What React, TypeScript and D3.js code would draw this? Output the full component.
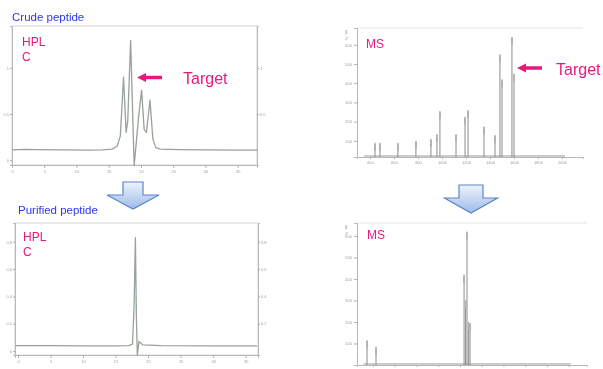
import React, { useEffect, useRef } from 'react';
import * as d3 from 'd3';

// crude peptide HPLC trace (min, mAU)
const crudeHplcTime = [0, 2, 4, 8, 12, 14, 15.5, 16.3, 16.8, 17.3, 17.7, 17.95, 18.4, 18.75, 18.95, 19.25, 19.65, 20.1, 20.5, 20.85, 21.4, 21.85, 22.3, 23, 26, 30, 35, 38];
const crudeHplcSignal = [110, 116, 112, 110, 108, 110, 118, 150, 260, 900, 300, 420, 1300, 420, -60, 170, 480, 760, 330, 300, 650, 230, 135, 118, 114, 110, 108, 108];

// purified peptide HPLC trace
const pureHplcTime = [-0.4, 5, 10, 15, 17, 17.6, 17.85, 18.05, 18.2, 18.35, 18.6, 19.2, 22, 30, 36.8];
const pureHplcSignal = [40, 40, 38, 38, 40, 50, 330, 830, 250, -30, 70, 45, 40, 38, 38];

// MS sticks (m/z, intensity x1e5)
const crudeMsMz = [442, 483, 633, 783, 908, 958, 983, 1117, 1192, 1217, 1350, 1442, 1483, 1500, 1583, 1600];
const crudeMsIntensity = [0.9, 0.9, 0.9, 1.0, 1.1, 1.35, 2.55, 1.35, 2.25, 2.6, 1.75, 1.3, 5.5, 4.2, 6.4, 4.5];
const pureMsMz = [345, 428, 1238, 1252, 1265, 1280, 1293];
const pureMsIntensity = [1.15, 0.85, 4.2, 3.0, 6.2, 2.0, 1.95];

// tick values
const hplcTimeTicks = [0, 5, 10, 15, 20, 25, 30, 35];
const crudeHplcYTicks = [0, 500, 1000];
const pureHplcYTicks = [0, 200, 400, 600, 800];
const crudeMsXTicks = [400, 600, 800, 1000, 1200, 1400, 1600, 1800, 2000];
const pureMsXTicks = [400, 600, 800, 1000, 1200, 1400, 1600, 1800, 2000, 2200];
const msYTicks = [1, 2, 3, 4, 5, 6];

const App = () => {
  const ref = useRef<SVGSVGElement>(null);

  useEffect(() => {
    const svg = d3.select(ref.current);
    svg.selectAll('*').remove();

    const defs = svg.append('defs');
    defs.append('filter').attr('id', 'soft')
      .append('feGaussianBlur').attr('stdDeviation', 0.45);
    const grad = defs.append('linearGradient').attr('id', 'blueArrow')
      .attr('x1', 0).attr('y1', 0).attr('x2', 0).attr('y2', 1);
    grad.append('stop').attr('offset', '0%').attr('stop-color', '#eef3fc');
    grad.append('stop').attr('offset', '100%').attr('stop-color', '#9dbbe8');

    const font = 'Liberation Sans, Arial, sans-serif';
    const styleAxis = (g) => {
      g.select('.domain').attr('stroke', '#b8b8b8');
      g.selectAll('.tick line').attr('stroke', '#b0b0b0');
      g.selectAll('.tick text').attr('fill', '#a0a0a0').style('font-size', '4px').style('font-family', font);
    };

    // HPLC panel
    const hplc = (cfg) => {
      const g = svg.append('g').attr('filter', 'url(#soft)');
      const x = d3.scaleLinear().domain(cfg.xDomain).range([cfg.left, cfg.right]);
      const y = d3.scaleLinear().domain(cfg.yDomain).range([cfg.bottom, cfg.top]);
      g.append('rect')
        .attr('x', cfg.left).attr('y', cfg.top)
        .attr('width', cfg.right - cfg.left).attr('height', cfg.bottom - cfg.top)
        .attr('fill', '#fff').attr('stroke', '#d4d4d4');
      g.append('g').attr('transform', `translate(0,${cfg.bottom})`)
        .call(d3.axisBottom(x).tickValues(hplcTimeTicks).tickSize(3).tickPadding(2))
        .call(styleAxis);
      g.append('g').attr('transform', `translate(${cfg.left},0)`)
        .call(d3.axisLeft(y).tickValues(cfg.yTicks).tickSize(2).tickPadding(1).tickFormat(d => `${d / 1000}`))
        .call(styleAxis);
      g.append('g').attr('transform', `translate(${cfg.right},0)`)
        .call(d3.axisRight(y).tickValues(cfg.yTicks.filter(d => d > 0)).tickSize(2).tickPadding(1).tickFormat(d => `${d / 1000}`))
        .call(styleAxis);
      const line = d3.line()
        .x((d, i) => x(cfg.time[i]))
        .y(d => y(d));
      g.append('path')
        .datum(cfg.signal)
        .attr('fill', 'none')
        .attr('stroke', '#98a298')
        .attr('stroke-width', 1.3)
        .attr('stroke-linejoin', 'round')
        .attr('d', line);
    };

    // MS panel
    const ms = (cfg) => {
      const g = svg.append('g').attr('filter', 'url(#soft)');
      const x = d3.scaleLinear().domain(cfg.xDomain).range([cfg.left, cfg.right]);
      const y = d3.scaleLinear().domain(cfg.yDomain).range([cfg.bottom, cfg.top]);
      g.append('line')
        .attr('x1', cfg.left).attr('x2', cfg.right)
        .attr('y1', cfg.top).attr('y2', cfg.top)
        .attr('stroke', '#e6e6e6');
      g.append('g').attr('transform', `translate(0,${cfg.bottom})`)
        .call(d3.axisBottom(x).tickValues(cfg.xTicks).tickSize(2).tickPadding(2)
          .tickFormat(cfg.showXLabels ? d3.format('d') : () => ''))
        .call(styleAxis);
      g.append('g').attr('transform', `translate(${cfg.left},0)`)
        .call(d3.axisLeft(y).tickValues(msYTicks).tickSize(3).tickPadding(2).tickFormat(d => `${d * 100}`))
        .call(styleAxis);
      g.append('text')
        .attr('transform', `translate(${cfg.left - 12},${cfg.top + 2}) rotate(90)`)
        .attr('fill', '#a0a0a0').style('font-size', '4px')
        .style('font-family', font)
        .text('Int. %');
      // baseline noise
      g.append('line')
        .attr('x1', x(cfg.xDomain[0] + 60)).attr('x2', x(cfg.xDomain[1] - 150))
        .attr('y1', cfg.bottom - 1).attr('y2', cfg.bottom - 1)
        .attr('stroke', '#9a9a9a').attr('stroke-width', 1);
      g.selectAll('.stick')
        .data(cfg.mz)
        .enter()
        .append('line')
        .attr('x1', d => x(d)).attr('x2', d => x(d))
        .attr('y1', cfg.bottom)
        .attr('y2', (d, i) => y(cfg.intensity[i]))
        .attr('stroke', '#8c8c8c')
        .attr('stroke-width', 1);
      // peak labels (vertical blobs)
      g.selectAll('.lbl')
        .data(cfg.mz)
        .enter()
        .append('rect')
        .attr('x', d => x(d) - 1)
        .attr('y', (d, i) => y(cfg.intensity[i]) + 1)
        .attr('width', 2)
        .attr('height', 7)
        .attr('fill', '#b4b4b4');
    };

    hplc({
      left: 12, right: 257, top: 26, bottom: 165,
      xDomain: [0, 38], yDomain: [-54, 1456],
      yTicks: crudeHplcYTicks,
      time: crudeHplcTime, signal: crudeHplcSignal,
    });
    hplc({
      left: 15, right: 258, top: 223, bottom: 355,
      xDomain: [-0.46, 36.9], yDomain: [-29, 937],
      yTicks: pureHplcYTicks,
      time: pureHplcTime, signal: pureHplcSignal,
    });
    ms({
      left: 357, right: 583, top: 28, bottom: 157,
      xDomain: [292, 2175], yDomain: [0.16, 6.87],
      xTicks: crudeMsXTicks, showXLabels: true,
      mz: crudeMsMz, intensity: crudeMsIntensity,
    });
    ms({
      left: 357, right: 587, top: 223, bottom: 365,
      xDomain: [253, 2369], yDomain: [0, 6.6],
      xTicks: pureMsXTicks, showXLabels: false,
      mz: pureMsMz, intensity: pureMsIntensity,
    });

    const addText = (x, y, s, size, color) => {
      svg.append('text').attr('x', x).attr('y', y)
        .attr('fill', color)
        .style('font-size', `${size}px`)
        .style('font-family', font)
        .text(s);
    };
    const blue = '#2a36f2';
    const pink = '#e8197c';
    addText(12, 20.5, 'Crude peptide', 11.5, blue);
    addText(18, 214, 'Purified peptide', 11.5, blue);
    addText(22, 46, 'HPL', 12, pink);
    addText(22, 61, 'C', 12, pink);
    addText(23, 241, 'HPL', 12, pink);
    addText(23, 256, 'C', 12, pink);
    addText(366, 47.5, 'MS', 12, pink);
    addText(367, 239, 'MS', 12, pink);
    addText(183, 83.5, 'Target', 16, pink);
    addText(556, 75, 'Target', 16, pink);

    // pink pointer arrows
    const pointer = (tip, tail, cy) => {
      svg.append('line')
        .attr('x1', tip + 6).attr('x2', tail)
        .attr('y1', cy).attr('y2', cy)
        .attr('stroke', pink).attr('stroke-width', 3.5);
      svg.append('path')
        .attr('d', `M${tip},${cy} L${tip + 9},${cy - 4.5} L${tip + 9},${cy + 4.5} Z`)
        .attr('fill', pink);
    };
    pointer(137, 162, 77.5);
    pointer(517, 542, 68);

    // blue block arrows
    const blockArrow = (cx, top, bodyW, bodyBottom, headW, tip) => {
      const pts = [
        [cx - bodyW, top], [cx + bodyW, top], [cx + bodyW, bodyBottom],
        [cx + headW, bodyBottom], [cx, tip], [cx - headW, bodyBottom],
        [cx - bodyW, bodyBottom],
      ];
      svg.append('path')
        .attr('d', d3.line()(pts) + 'Z')
        .attr('fill', 'url(#blueArrow)')
        .attr('stroke', '#5a86c8')
        .attr('stroke-width', 1.2);
    };
    blockArrow(133, 182, 10, 195, 26, 209);
    blockArrow(471, 185, 12, 198, 26.5, 213);
  }, []);

  return (
    <svg ref={ref} width={603} height={369}
      style={{ position: 'absolute', left: 0, top: 0, background: '#fff' }} />
  );
};

export default App;
